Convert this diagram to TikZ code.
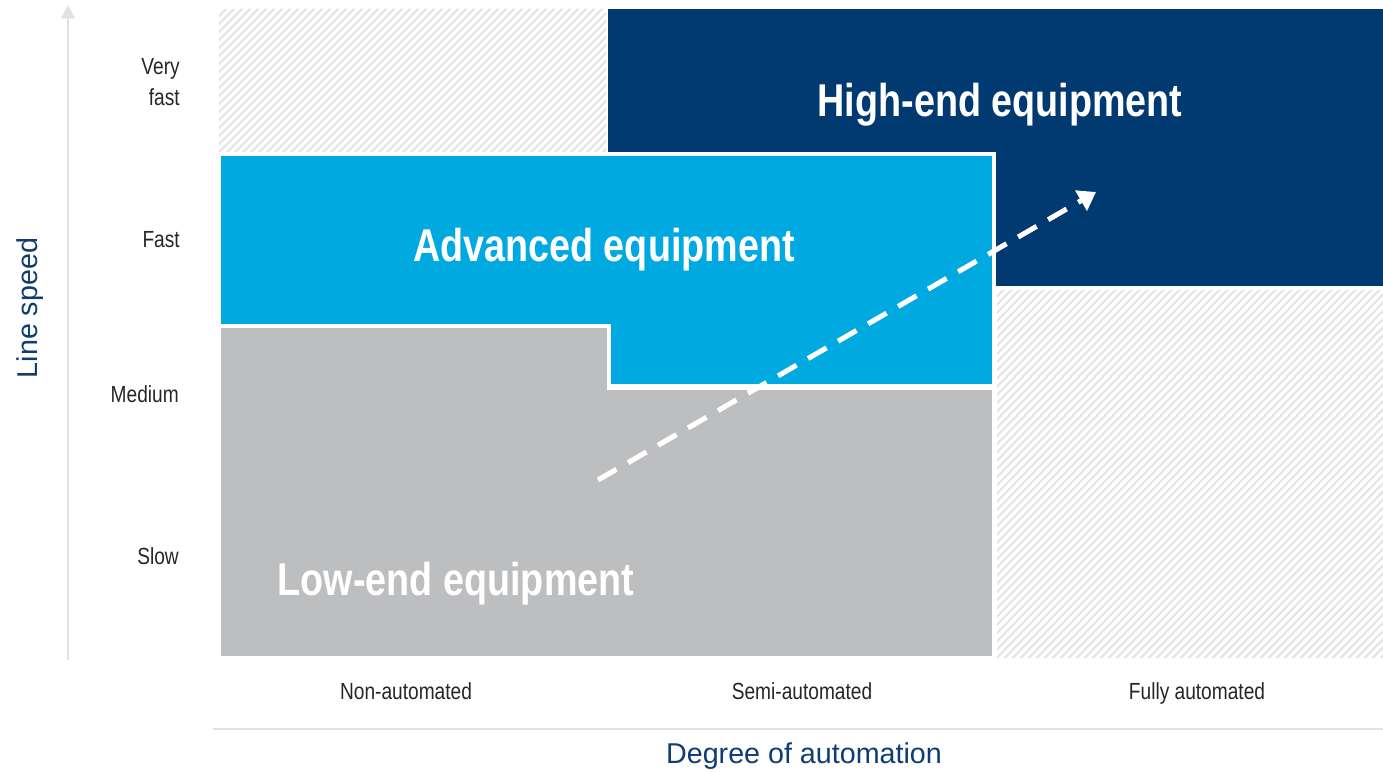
\documentclass[tikz,border=0pt]{standalone}
\usepackage{fontspec}
\setmainfont{Liberation Sans}
\newfontfamily\narrowfont[FakeStretch=0.82]{Liberation Sans}
\usetikzlibrary{arrows.meta}
\definecolor{navy}{RGB}{0,58,112}
\definecolor{skyblue}{RGB}{0,169,224}
\definecolor{midgray}{RGB}{189,190,192}
\definecolor{hatchgray}{RGB}{228,228,228}
\definecolor{axisgray}{RGB}{225,225,225}
\definecolor{titlenavy}{RGB}{14,60,115}
\tikzset{
  bigtext/.style={text=white,font=\narrowfont\bfseries\fontsize{34.5}{40}\selectfont,inner sep=0pt},
  ticktext/.style={text=black!85,font=\narrowfont\fontsize{17.5}{23}\selectfont,inner sep=0pt},
  xticktext/.style={ticktext,text height=0.72em,text depth=0.22em},
  axistitle/.style={text=titlenavy,font=\fontsize{21.5}{25}\selectfont,inner sep=0pt},
  hatchline/.style={hatchgray,line width=1.6pt},
  axisline/.style={axisgray,line width=1.5pt},
  region/.style={draw=white,line width=3pt,line join=miter}
}
\begin{document}
\begin{tikzpicture}[x=0.75pt,y=-0.75pt]
\useasboundingbox (0,0) rectangle (1383,772);
% hatched areas
\begin{scope}
  \clip (219,9) rectangle (606,152);
  \foreach \i in {0,8,...,560} {\draw[hatchline] (219+\i-160,160) -- (219+\i,0);}
\end{scope}
\begin{scope}
  \clip (997,290) rectangle (1383,657);
  \foreach \i in {0,8,...,800} {\draw[hatchline] (997+\i-380,670) -- (997+\i,290-10);}
\end{scope}
% navy region
\fill[navy] (608,9) rectangle (1383,286);
% gray region
\filldraw[region,fill=midgray] (219,326) -- (609,326) -- (609,388) -- (994,388) -- (994,658) -- (219,658) -- cycle;
% blue region
\filldraw[region,fill=skyblue] (219,154) -- (994,154) -- (994,386) -- (609,386) -- (609,326) -- (219,326) -- cycle;
% labels
\node[bigtext] (high) at (1000,105) {High-end equipment};
\node[bigtext] (adv) at (604,250) {Advanced equipment};
\node[bigtext] (low) at (456,584) {Low-end equipment};
% trend arrow
\coordinate (ts) at (598,480);
\coordinate (te) at (1096,192);
\draw[white,line width=3.8pt,dash pattern=on 16pt off 10pt,-{Triangle[length=13pt,width=17pt]}] (ts) -- (te);
% axes
\coordinate (yb) at (68,660);
\coordinate (yt) at (68,5);
\draw[axisline,-{Triangle[length=10pt,width=10pt]}] (yb) -- (yt);
\coordinate (xl) at (213,729);
\coordinate (xr) at (1383,729);
\draw[axisline] (xl) -- (xr);
% tick labels
\node[ticktext,anchor=east,align=right] (vf) at (180,82) {Very\\fast};
\node[ticktext,anchor=east] (fast) at (180,240) {Fast};
\node[ticktext,anchor=east] (med) at (179,394) {Medium};
\node[ticktext,anchor=east] (slow) at (179,556) {Slow};
\node[xticktext] (na) at (406,696) {Non-automated};
\node[xticktext] (sa) at (802,696) {Semi-automated};
\node[xticktext] (fa) at (1197,696) {Fully automated};
% axis titles
\node[axistitle] (xt) at (804,756) {Degree of automation};
\node[axistitle,rotate=90] (ytl) at (30,308) {Line speed};
\end{tikzpicture}
\end{document}
